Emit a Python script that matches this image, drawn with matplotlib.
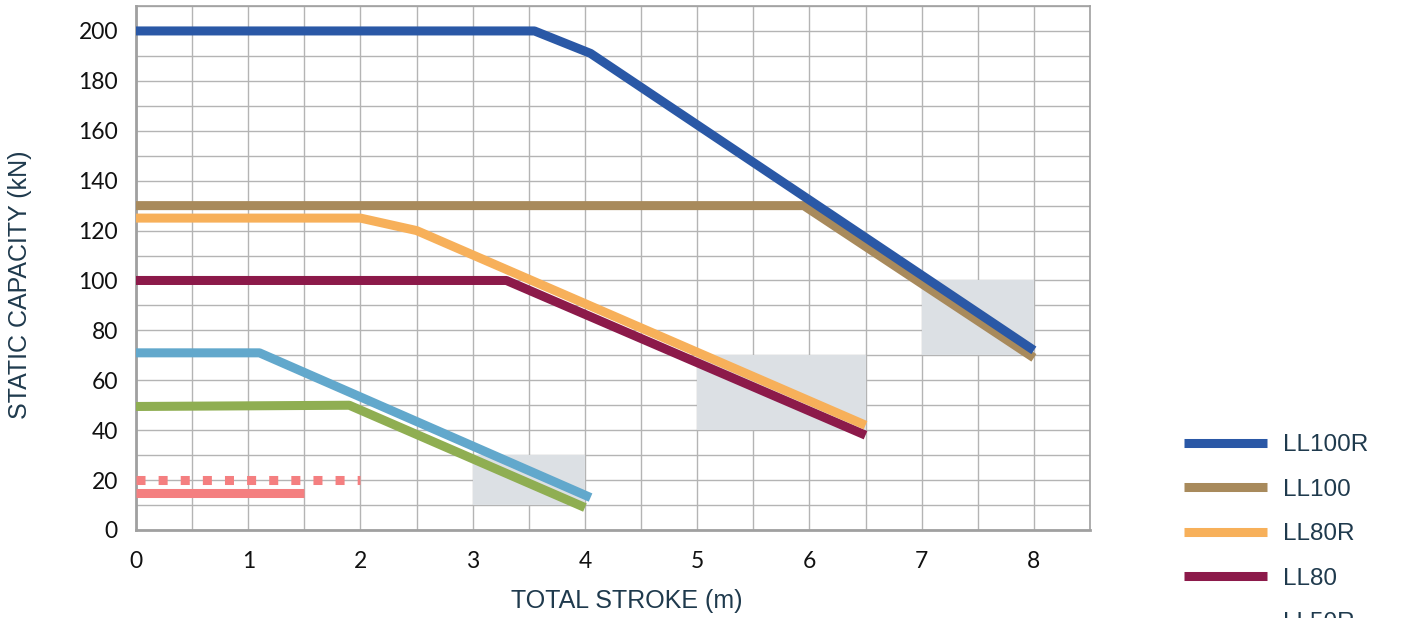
import matplotlib.pyplot as plt
from matplotlib.patches import Rectangle
import numpy as np

# data
names = ['LL100R', 'LL100', 'LL80R', 'LL80', 'LL50R', 'LL50', 'LL25R', 'LL25']
colors = ['#2a58a6', '#a88a5c', '#f7b05a', '#8c1a4a', '#62a8cc', '#8fae52', '#f47f80', '#f47f80']
styles = ['-', '-', '-', '-', '-', '-', ':', '-']

ll100r_x = [0, 3.55, 4.05, 8.0]
ll100r_y = [200, 200, 191, 72]
ll100_x = [0, 5.95, 8.0]
ll100_y = [130, 130, 69]
ll80r_x = [0, 2.0, 2.5, 6.5]
ll80r_y = [125, 125, 120, 42]
ll80_x = [0, 3.3, 6.5]
ll80_y = [100, 100, 38]
ll50r_x = [0, 1.1, 4.05]
ll50r_y = [71, 71, 13]
ll50_x = [0, 1.9, 4.0]
ll50_y = [49.5, 50, 9]
ll25r_x = [0, 2.0]
ll25r_y = [20, 20]
ll25_x = [0, 1.5]
ll25_y = [15, 15]

# grey zones (x0, x1, y0, y1)
zones = [(3, 4, 10, 30), (5, 6.5, 40, 70), (7, 8, 70, 100)]

xs = [ll100r_x, ll100_x, ll80r_x, ll80_x, ll50r_x, ll50_x, ll25r_x, ll25_x]
ys = [ll100r_y, ll100_y, ll80r_y, ll80_y, ll50r_y, ll50_y, ll25r_y, ll25_y]

text_col = '#1f3a4d'

fig = plt.figure(figsize=(14.01, 6.18), dpi=100)
ax = fig.add_axes([136 / 1401, 1 - 530 / 618, (1090 - 136) / 1401, (530 - 6) / 618])

for x0, x1, y0, y1 in zones:
    ax.add_patch(Rectangle((x0, y0), x1 - x0, y1 - y0, facecolor='#dce0e4', edgecolor='none', zorder=1))

# draw in reverse so upper series sit on top like the original
for i in range(len(names) - 1, -1, -1):
    ls = styles[i]
    kw = dict(color=colors[i], lw=6.5, solid_capstyle='butt', zorder=3 + (len(names) - i) * 0.01, label=names[i])
    if ls == ':':
        ax.plot(xs[i], ys[i], linestyle=(0, (1.0, 1.45)), dash_capstyle='butt', **kw)
    else:
        ax.plot(xs[i], ys[i], **kw)

ax.set_xlim(0, 8.5)
ax.set_ylim(0, 210)
ax.set_xticks(np.arange(0, 9, 1))
ax.set_xticks(np.arange(0, 8.6, 0.5), minor=True)
ax.set_yticks(np.arange(0, 201, 20))
ax.set_yticks(np.arange(0, 211, 10), minor=True)
ax.grid(True, which='both', color='#b4b4b4', lw=1.0, zorder=0)
ax.set_axisbelow(True)
ax.tick_params(which='both', length=0)
ax.tick_params(axis='x', pad=15)
ax.tick_params(axis='y', pad=13)
for lab in ax.get_xticklabels() + ax.get_yticklabels():
    lab.set_fontfamily('Lato')
    lab.set_fontsize(16.5)
    lab.set_color('#111111')
for s in ax.spines.values():
    s.set_color('#a0a0a0')
    s.set_linewidth(1.2)
ax.spines['left'].set_linewidth(2)
ax.spines['bottom'].set_linewidth(2)

ax.set_xlabel('TOTAL STROKE (m)', fontsize=18, color=text_col, family='Liberation Sans')
ax.set_ylabel('STATIC CAPACITY (kN)', fontsize=18, color=text_col, family='Liberation Sans')
ax.xaxis.set_label_coords(627 / 1401, 1 - 601 / 618, transform=fig.transFigure)
ax.yaxis.set_label_coords(20 / 1401, 1 - 285 / 618, transform=fig.transFigure)
ax.xaxis.label.set_va('center')
ax.yaxis.label.set_va('center')

handles, labels = ax.get_legend_handles_labels()
order = [labels.index(n) for n in names]
fig.legend([handles[k] for k in order], [labels[k] for k in order],
           loc='upper left', bbox_to_anchor=(1184 / 1401, 1 - 434 / 618),
           frameon=False, borderpad=0, borderaxespad=0, handlelength=3.4, handletextpad=0.66,
           labelspacing=0.93, prop={'family': 'Liberation Sans', 'size': 17.5},
           labelcolor=text_col)

fig.savefig('out.png', dpi=100)
